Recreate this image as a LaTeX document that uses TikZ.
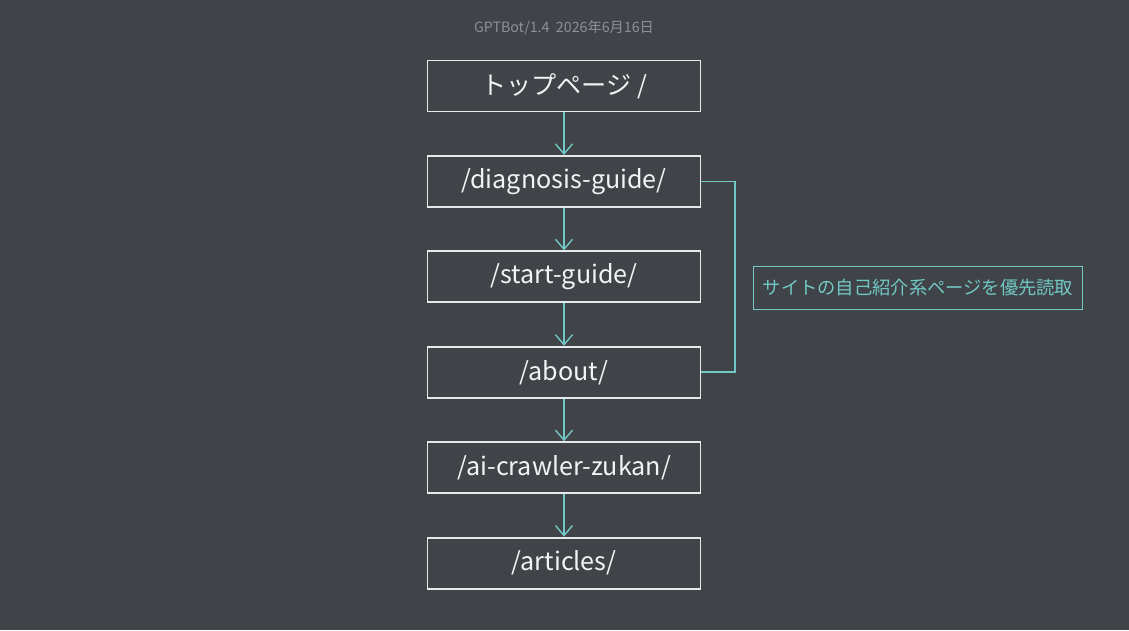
\documentclass[tikz,border=0pt]{standalone}
\usepackage{fontspec}
\setmainfont{Noto Sans CJK JP}
\usetikzlibrary{positioning,arrows.meta}
\definecolor{bgcol}{HTML}{404448}
\definecolor{boxline}{HTML}{E6E8EA}
\definecolor{boxtext}{HTML}{F2F3F4}
\definecolor{tealline}{HTML}{72C8C4}
\definecolor{stampcol}{HTML}{8C9196}

\tikzset{
  page/.style={draw=boxline, line width=1.1pt, minimum width=5.46cm,
    minimum height=1.02cm, inner sep=0pt, text=boxtext,
    font=\fontsize{14.3}{16}\selectfont},
  link/.style={draw=tealline, line width=0.8pt,
    -{Straight Barb[length=2mm,width=3.4mm]}},
  bracket/.style={draw=tealline, line width=0.9pt},
  notebox/.style={draw=tealline, line width=0.9pt, minimum width=6.58cm,
    minimum height=0.86cm, inner sep=0pt, text=tealline,
    font=\fontsize{10.4}{12}\selectfont},
  stamp/.style={text=stampcol, font=\fontsize{8.1}{10}\selectfont}
}

\begin{document}
\begin{tikzpicture}[x=0.02cm,y=-0.02cm, node distance=0.85cm]
\fill[bgcol] (0,0) rectangle (1129,630);
\useasboundingbox (0,0) rectangle (1129,630);

% header
\node[stamp] (stamp) at (564,28) {GPTBot/1.4\ \ 2026年6月16日};

% crawl order
\node[page] (top) at (564,86) {トップページ /};
\node[page, below=of top] (diag) {/diagnosis-guide/};
\node[page, below=of diag] (start) {/start-guide/};
\node[page, below=of start] (about) {/about/};
\node[page, below=of about] (zukan) {/ai-crawler-zukan/};
\node[page, below=of zukan] (articles) {/articles/};

\draw[link] (top) -- (diag);
\draw[link] (diag) -- (start);
\draw[link] (start) -- (about);
\draw[link] (about) -- (zukan);
\draw[link] (zukan) -- (articles);

% group note
\coordinate (brk) at (735,0);
\draw[bracket] (diag.east) -- (diag.east -| brk) -- (about.east -| brk) -- (about.east);
\node[notebox] (note) at (918,288) {サイトの自己紹介系ページを優先読取};
\end{tikzpicture}
\end{document}
